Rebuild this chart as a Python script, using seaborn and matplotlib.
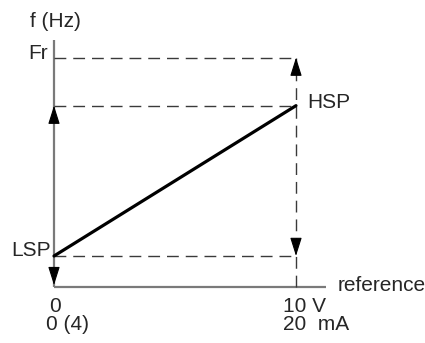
import matplotlib
matplotlib.use("Agg")
import matplotlib.pyplot as plt
import seaborn as sns
import pandas as pd

# ---- data ----
ref_points = [0, 10]            # reference (0 .. 10 V / 20 mA)
freq_points = [1.0, 5.85]       # LSP .. HSP
level_names = ["LSP", "HSP", "Fr"]
level_values = [1.0, 5.85, 7.4]
x_tick_labels_v = ["0", "10 V"]
x_tick_labels_ma = ["0 (4)", "20  mA"]

sns.set_theme(style="white")
plt.rcParams["font.family"] = ["Liberation Sans", "DejaVu Sans"]

fig = plt.figure(figsize=(4.25, 3.43), dpi=100)
ax = fig.add_axes([0, 0, 1, 1])
ax.set_xlim(-54 / 24.2, (425 - 54) / 24.2)
ax.set_ylim((287 - 343) / 31, 287 / 31)
ax.axis("off")

FS = 15
lsp, hsp, fr = level_values
xmax = ref_points[1]

# axes
axis_col = "#7a7a7a"
ax.plot([0, 0], [0, 7.97], color=axis_col, lw=1.6, solid_capstyle="butt", zorder=2)
ax.plot([0, 11.24], [0, 0], color=axis_col, lw=1.6, solid_capstyle="butt", zorder=2)

# dashed guides
dash_col = "#3a3a3a"
dash = (8.5, 5.0)
for v in level_values:
    ax.plot([0, xmax], [v, v], color=dash_col, lw=1.0, dashes=dash, zorder=3)
ax.plot([xmax, xmax], [0, fr], color=dash_col, lw=1.0, dashes=dash, zorder=3)

# main characteristic
df = pd.DataFrame({"reference": ref_points, "f": freq_points})
sns.lineplot(data=df, x="reference", y="f", ax=ax, color="black", lw=2.3, zorder=5)

# arrow heads
def head(x, y, direction):
    off = 13 * 0.72 * (1 if direction == "down" else -1)
    ax.annotate("", xy=(x, y), xytext=(0, off), textcoords="offset points",
                xycoords="data",
                arrowprops=dict(arrowstyle="-|>,head_length=0.95,head_width=0.3",
                                color="black", lw=0.8, shrinkA=0, shrinkB=0),
                zorder=6)

head(0, hsp, "up")
head(0, 0.06, "down")
head(xmax, fr, "up")
head(xmax, lsp, "down")

# labels
ax.text(0.08, 8.55, "f (Hz)", ha="center", va="center", fontsize=FS)
ax.text(-0.25, 7.52, "Fr", ha="right", va="center", fontsize=FS)
ax.text(-0.12, 1.19, level_names[0], ha="right", va="center", fontsize=FS)
ax.text(10.45, 5.95, level_names[1], ha="left", va="center", fontsize=FS)
ax.text(11.7, 0.05, "reference", ha="left", va="center", fontsize=FS)
ax.text(0.04, -0.62, x_tick_labels_v[0], ha="center", va="center", fontsize=FS)
ax.text(-0.33, -1.22, x_tick_labels_ma[0], ha="left", va="center", fontsize=FS)
ax.text(9.46, -0.62, x_tick_labels_v[1], ha="left", va="center", fontsize=FS)
ax.text(9.46, -1.22, x_tick_labels_ma[1], ha="left", va="center", fontsize=FS)

fig.savefig("out.png", dpi=100)
